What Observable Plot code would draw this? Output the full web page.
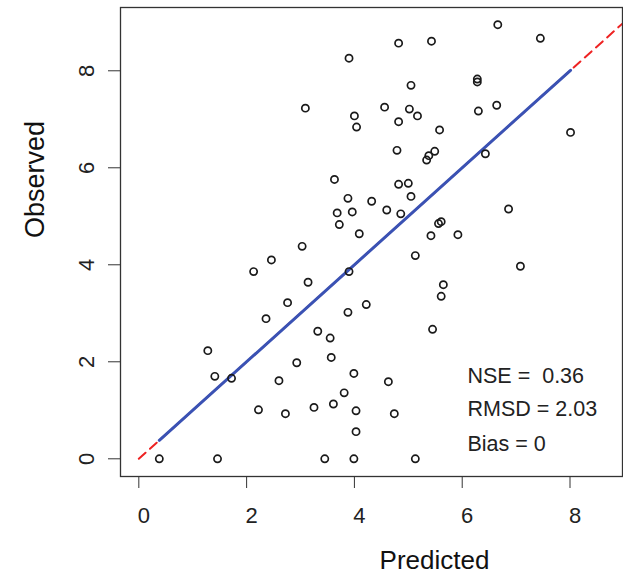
<!DOCTYPE html>
<html><head><meta charset="utf-8">
<script src="https://cdn.jsdelivr.net/npm/d3@7"></script>
<script src="https://cdn.jsdelivr.net/npm/@observablehq/plot@0.6"></script>
<style>body{margin:0;background:#fff}</style>
</head><body><div id="chart"></div>
<script>
const predicted = [3.90,3.09,4.00,4.04,3.63,3.88,4.32,3.68,3.96,3.72,4.09,3.03,
  6.66,7.45,4.82,5.43,5.05,6.28,6.28,4.56,5.02,5.17,4.82,6.30,6.64,5.58,8.01,
  4.79,5.49,5.38,5.34,6.43,4.82,5.00,5.05,4.60,4.86,6.86,5.56,5.61,5.42,5.92,
  5.13,7.08,5.65,5.61,4.22,5.45,4.63,4.74,5.13,
  2.46,2.13,3.14,3.90,2.76,3.88,2.36,3.32,3.55,1.28,3.57,2.93,3.99,1.41,1.72,
  2.60,3.81,2.22,2.72,3.25,3.61,4.03,4.03,0.38,1.46,3.45,3.99];
const observed = [8.26,7.23,7.07,6.84,5.76,5.37,5.31,5.07,5.09,4.83,4.64,4.38,
  8.95,8.67,8.57,8.61,7.70,7.83,7.77,7.25,7.21,7.07,6.95,7.17,7.29,6.78,6.73,
  6.36,6.34,6.25,6.16,6.29,5.66,5.68,5.41,5.13,5.05,5.15,4.85,4.89,4.60,4.62,
  4.19,3.97,3.59,3.35,3.18,2.67,1.59,0.93,0,
  4.10,3.86,3.64,3.86,3.22,3.02,2.89,2.63,2.49,2.23,2.09,1.98,1.76,1.70,1.66,
  1.61,1.36,1.01,0.93,1.06,1.13,0.99,0.56,0,0,0,0];
const xTicks = [0, 2, 4, 6, 8];
const yTicks = [0, 2, 4, 6, 8];
const statsLabels = ["NSE = \u00a00.36", "RMSD = 2.03", "Bias = 0"];
const xTitle = "Predicted";
const yTitle = "Observed";

const points = predicted.map((p, i) => ({predicted: p, observed: observed[i]}));
const [pMin, pMax] = d3.extent(predicted);
const fitLine = [{x: pMin, y: pMin}, {x: pMax, y: pMax}];
const oneToOne = [{x: 0, y: 0}, {x: 10, y: 10}];

const font = "'Liberation Sans', Arial, Helvetica, sans-serif";
const narrow = "'Liberation Sans Narrow', 'Liberation Sans', Arial, sans-serif";
const statsDy = [-100.5, -67, -32];

const chart = Plot.plot({
  width: 623,
  height: 575,
  marginLeft: 120,
  marginRight: 1,
  marginTop: 7,
  marginBottom: 99,
  style: {fontFamily: font, background: "#fff", color: "#222"},
  x: {domain: [-0.34, 8.974], ticks: xTicks},
  y: {domain: [-0.365, 9.305], ticks: yTicks},
  marks: [
    Plot.line(oneToOne, {x: "x", y: "y", stroke: "#ee2222", strokeWidth: 2, strokeDasharray: "9,6", clip: true}),
    Plot.line(fitLine, {x: "x", y: "y", stroke: "#3a52b4", strokeWidth: 3}),
    Plot.dot(points, {x: "predicted", y: "observed", r: 3.6, stroke: "#1a1a1a", strokeWidth: 1.7, fill: "none"}),
    Plot.frame({stroke: "#333", strokeWidth: 1.3}),
    Plot.axisX({ticks: xTicks, tickSize: 12, tickFormat: () => "", label: null, stroke: "#333"}),
    Plot.text(xTicks, {x: d => d, text: d => String(d), frameAnchor: "bottom", dx: 5, dy: 39, fontSize: 22, fontFamily: narrow, textAnchor: "middle", lineAnchor: "middle", fill: "#222"}),
    Plot.axisY({ticks: yTicks, tickSize: 12, tickFormat: () => "", label: null, stroke: "#333"}),
    Plot.text(yTicks, {y: d => d, text: d => String(d), frameAnchor: "left", dx: -34, rotate: -90, fontSize: 22, fontFamily: narrow, textAnchor: "middle", lineAnchor: "middle", fill: "#222"}),
    Plot.text([yTitle], {text: d => d, frameAnchor: "top-left", dx: -85, dy: 172, rotate: -90, fontSize: 27, textAnchor: "middle", lineAnchor: "middle", fill: "#111"}),
    Plot.text([xTitle], {text: d => d, frameAnchor: "bottom-left", dx: 314, dy: 84, fontSize: 26, textAnchor: "middle", lineAnchor: "middle", fill: "#111"}),
    ...statsLabels.map((s, i) => Plot.text([s], {text: d => d, frameAnchor: "bottom-left", dx: 347, dy: statsDy[i], fontSize: 21.5, textAnchor: "start", lineAnchor: "middle", fill: "#222"}))
  ]
});
document.getElementById("chart").appendChild(chart);
</script>
</body></html>
